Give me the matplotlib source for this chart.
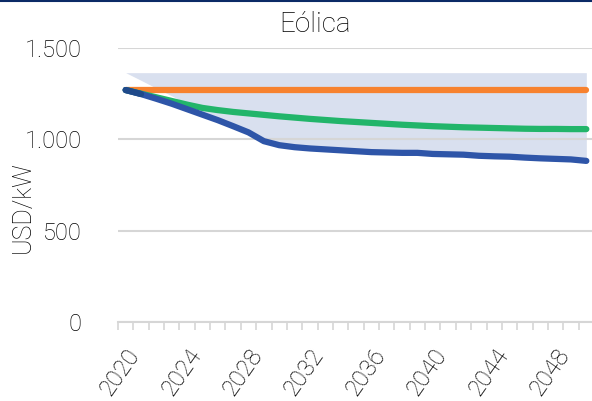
import matplotlib.pyplot as plt
from matplotlib.lines import Line2D

plt.rcParams['font.family'] = ['Roboto', 'DejaVu Sans']

years = list(range(2020, 2051))
tick_years = list(range(2020, 2050, 4))

orange = [1270] * 31
green = [1270, 1250, 1230, 1210, 1190, 1172, 1160, 1150, 1142, 1134,
         1126, 1119, 1112, 1106, 1100, 1095, 1090, 1085, 1080, 1076,
         1072, 1069, 1066, 1064, 1062, 1060, 1058, 1057, 1057, 1056, 1056]
blue = [1270, 1248, 1222, 1195, 1165, 1135, 1105, 1072, 1038, 990,
        968, 957, 950, 945, 940, 935, 930, 928, 926, 926,
        920, 918, 916, 910, 907, 905, 900, 896, 893, 890, 882]
band_upper = [1365] * 31
band_lower = [1365, 1323, 1280, 1238, 1195, 1153, 1110, 1068, 1030] + blue[9:]

txt = '#000000'
wt = 'light'

fig = plt.figure(figsize=(5.92, 4.01), dpi=100)
ax = fig.add_axes([118 / 592, 79 / 401, 476 / 592, 274 / 401])

x = list(range(len(years)))
ax.fill_between(x, band_lower, band_upper, color='#d9e0ef', lw=0, zorder=1)
ax.plot(x, orange, color='#f7822f', lw=4.5, solid_capstyle='round', zorder=3)
ax.plot(x, green, color='#22b56a', lw=4.5, solid_capstyle='round', zorder=4)
ax.plot(x, blue, color='#2e55a8', lw=4.5, solid_capstyle='round', zorder=5)
ax.plot(x[:2], blue[:2], color='#1f4a8a', lw=4.5, solid_capstyle='round', zorder=6)

ax.set_xlim(-0.5, 30.5)
ax.set_ylim(0, 1500)
ax.set_yticks([0, 500, 1000, 1500])
ax.set_yticklabels(['0', '500', '1.000', '1.500'])
ax.grid(axis='y', color='#d6d6d6', lw=1.5, zorder=2)
ax.set_axisbelow(False)

ax.set_xticks([years.index(y) for y in tick_years])
ax.set_xticklabels([str(y) for y in tick_years], rotation=55, ha='right',
                   rotation_mode='anchor')
ax.set_xticks([i - 0.5 for i in range(32)], minor=True)
ax.tick_params(axis='x', which='major', length=0, pad=16, labelsize=17,
               labelcolor=txt)
ax.tick_params(axis='x', which='minor', length=6, width=1.2, color='#d6d6d6')
ax.tick_params(axis='y', length=0, pad=26, labelsize=17, labelcolor=txt)
for lab in ax.get_xticklabels() + ax.get_yticklabels():
    lab.set_fontweight(wt)

for s in ['top', 'right', 'left']:
    ax.spines[s].set_visible(False)
ax.spines['bottom'].set_color('#d6d6d6')
ax.spines['bottom'].set_linewidth(1.5)

ax.set_ylabel('USD/kW', fontsize=18, color=txt, fontweight=wt)
ax.yaxis.set_label_coords(-0.175, 0.42)

fig.text(315 / 592, 1 - 25 / 401, 'Eólica', ha='center', va='center',
         fontsize=20, color=txt, fontweight=wt)
fig.add_artist(Line2D([0, 1], [0.998, 0.998], transform=fig.transFigure,
                      color='#0b2a66', lw=1.5))

fig.savefig('out.png', dpi=100)
